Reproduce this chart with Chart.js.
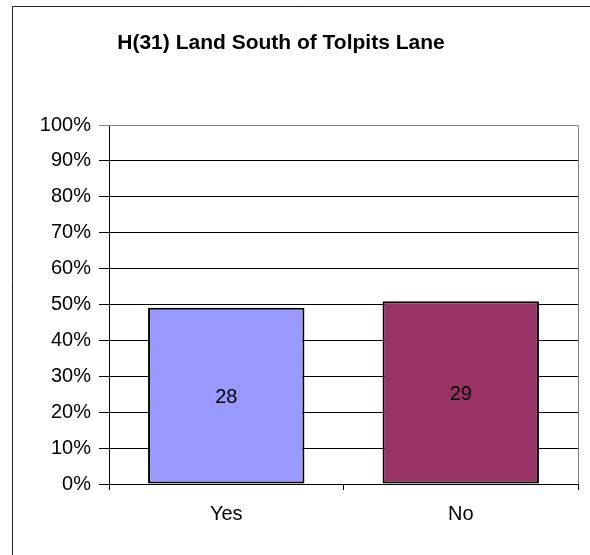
<!DOCTYPE html>
<html>
<head>
<meta charset="utf-8">
<script src="https://cdn.jsdelivr.net/npm/chart.js@4.4.1/dist/chart.umd.min.js"></script>
<style>
  html, body { margin: 0; padding: 0; background: #fff; }
  #wrap { width: 590px; height: 555px; position: relative; }
</style>
</head>
<body>
<div id="wrap"><canvas id="graphCanvas" width="590" height="555"></canvas></div>
<script>
// data
let categories = ['Yes', 'No'];
let counts = [28, 29];
let percentValues = [49.1, 50.9];
let barColors = ['#9999ff', '#993366'];
let yTicks = [0, 10, 20, 30, 40, 50, 60, 70, 80, 90, 100];
let chartTitle = 'H(31) Land South of Tolpits Lane';

const fontFamily = '"Liberation Sans", Arial, sans-serif';

// frame around the whole picture, title, grey top/right border of plot
const framePlugin = {
    id: 'framePlugin',
    beforeDraw(chart) {
        let ctx = chart.ctx;
        ctx.save();
        ctx.fillStyle = '#fff';
        ctx.fillRect(0, 0, chart.width, chart.height);
        ctx.strokeStyle = '#222';
        ctx.lineWidth = 1;
        ctx.beginPath();
        ctx.moveTo(12.5, chart.height);
        ctx.lineTo(12.5, 6.5);
        ctx.lineTo(chart.width, 6.5);
        ctx.stroke();

        ctx.fillStyle = '#000';
        ctx.font = 'bold 21px ' + fontFamily;
        ctx.textAlign = 'center';
        ctx.textBaseline = 'middle';
        ctx.fillText(chartTitle, 281, 43);
        ctx.restore();
    },
    afterDatasetsDraw(chart) {
        let ctx = chart.ctx;
        let a = chart.chartArea;
        ctx.save();
        ctx.strokeStyle = '#808080';
        ctx.lineWidth = 1;
        ctx.beginPath();
        ctx.moveTo(a.left, Math.round(a.top) + 0.5);
        ctx.lineTo(Math.round(a.right) + 0.5, Math.round(a.top) + 0.5);
        ctx.lineTo(Math.round(a.right) + 0.5, a.bottom);
        ctx.stroke();

        // count labels in the middle of each bar
        let meta = chart.getDatasetMeta(0);
        ctx.fillStyle = '#000';
        ctx.font = '20px ' + fontFamily;
        ctx.textAlign = 'center';
        ctx.textBaseline = 'middle';
        meta.data.forEach(function(bar, i) {
            let y = (bar.y + bar.base) / 2 + 2;
            ctx.fillText(String(counts[i]), bar.x, y);
        });
        ctx.restore();
    }
};

let ctx = document.getElementById('graphCanvas').getContext('2d');
let barChart = new Chart(ctx, {
    type: 'bar',
    data: {
        labels: categories,
        datasets: [{
            data: percentValues,
            backgroundColor: barColors,
            borderColor: '#000',
            borderWidth: 2,
            borderSkipped: false,
            barPercentage: 0.667,
            categoryPercentage: 1
        }]
    },
    options: {
        responsive: false,
        animation: false,
        layout: { padding: { left: 0, right: 12, top: 125, bottom: 0 } },
        plugins: {
            legend: { display: false },
            tooltip: { enabled: false },
            title: { display: false }
        },
        scales: {
            x: {
                afterFit: function(axis) { axis.height = 71; },
                grid: { display: true, drawOnChartArea: false, offset: true, tickLength: 6, color: '#000' },
                border: { color: '#000', width: 1 },
                ticks: {
                    color: '#000',
                    padding: 12,
                    font: { family: fontFamily, size: 20 }
                }
            },
            y: {
                min: 0,
                max: 100,
                afterFit: function(axis) { axis.width = 109; },
                afterBuildTicks: function(axis) {
                    axis.ticks = yTicks.map(function(v) { return { value: v }; });
                },
                grid: {
                    color: function(c) { return c.tick && c.tick.value === 100 ? '#808080' : '#000'; },
                    tickLength: 10,
                    lineWidth: 1
                },
                border: { color: '#000', width: 1 },
                ticks: {
                    color: '#000',
                    padding: 8,
                    font: { family: fontFamily, size: 20 },
                    callback: function(v) { return v + '%'; }
                }
            }
        }
    },
    plugins: [framePlugin]
});
</script>
</body>
</html>
